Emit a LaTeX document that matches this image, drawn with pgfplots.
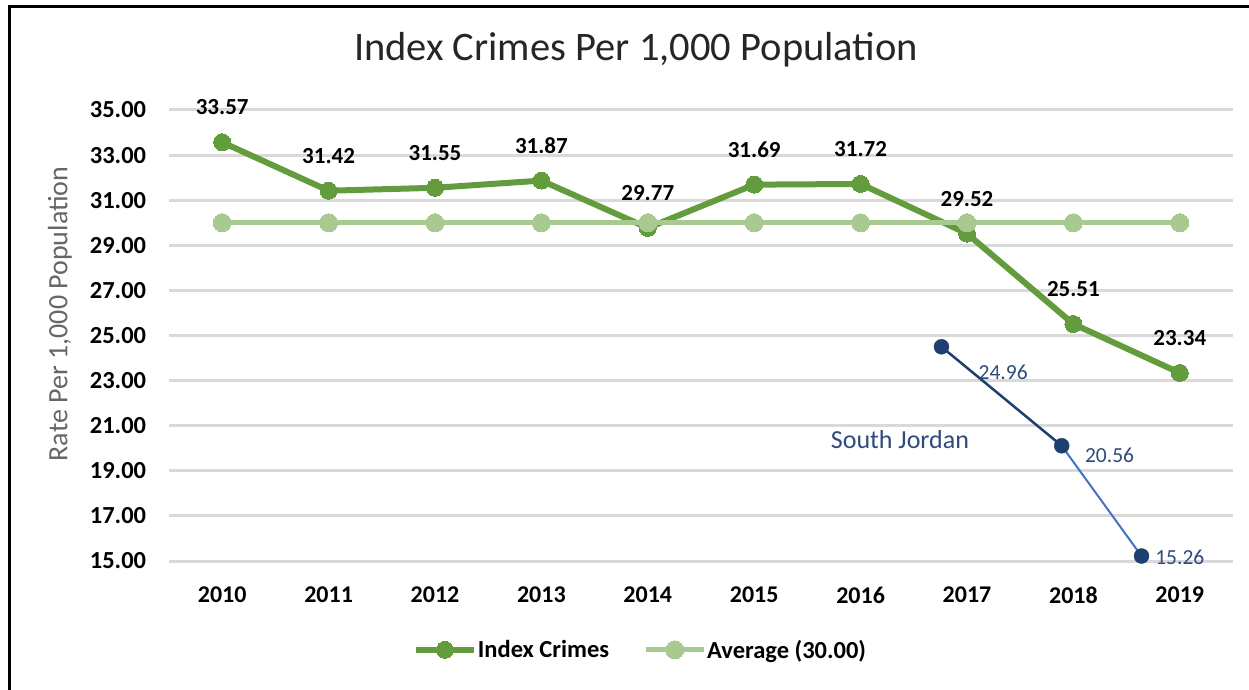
\documentclass[border=0pt]{standalone}
\usepackage{fontspec}
\setmainfont{Carlito}
\usepackage{pgfplots}
\pgfplotsset{compat=1.18}
\definecolor{ic}{RGB}{98,156,61}
\definecolor{avg}{RGB}{168,201,144}
\definecolor{sjd}{RGB}{31,63,112}
\definecolor{sjl}{RGB}{68,114,196}
\definecolor{sjt}{RGB}{47,75,124}
\definecolor{gridc}{RGB}{217,217,217}
\begin{document}
\begin{tikzpicture}
\useasboundingbox (0pt,0pt) rectangle (1249pt,689pt);
\fill[white] (0pt,0pt) rectangle (1249pt,689pt);
\node[font=\fontsize{40.5}{43}\selectfont, text=black!85] at (636pt,639pt) {Index Crimes Per 1,000 Population};
\node[font=\fontsize{28}{30}\selectfont, text=black!60, rotate=90] at (60pt,375pt) {Rate Per 1,000 Population};
\begin{axis}[
  at={(169pt,128pt)}, anchor=south west, scale only axis,
  width=1064pt, height=451pt,
  xmin=-0.5, xmax=9.5, ymin=15, ymax=35,
  xtick={0,...,9},
  xticklabels={2010,2011,2012,2013,2014,2015,2016,2017,2018,2019},
  ytick={15,17,...,35},
  axis line style={draw=none},
  major tick length=0pt,
  ymajorgrids, grid style={draw=gridc, line width=3pt},
  /pgf/number format/.cd, fixed, fixed zerofill, precision=2, assume math mode=true,
  /pgfplots/.cd,
  yticklabel style={font=\fontsize{24.5}{26}\selectfont\bfseries, anchor=center, xshift=-51pt},
  xticklabel style={font=\fontsize{24}{26}\selectfont\bfseries, anchor=center, yshift=-34pt},
  clip=false,
  legend style={at={(0.4427,-0.197)}, anchor=center, draw=none, fill=none,
    font=\fontsize{24.5}{26}\selectfont\bfseries, legend columns=2,
    nodes={inner xsep=1pt},
    /tikz/every even column/.append style={column sep=33pt}},
  legend image code/.code={\draw[mark repeat=2,mark phase=2,#1] plot coordinates {(0pt,0pt) (29pt,0pt) (58pt,0pt)};},
]
\addplot[ic, line width=6pt, mark=*, mark size=8.5pt,
  mark options={fill=ic, draw=ic, line width=0pt},
  nodes near coords,
  every node near coord/.append style={font=\fontsize{23}{25}\selectfont\bfseries, text=black, anchor=center, yshift=35pt}]
  coordinates {(0,33.57) (1,31.42) (2,31.55) (3,31.87) (4,29.77) (5,31.69) (6,31.72) (7,29.52) (8,25.51) (9,23.34)};
\addlegendentry{Index Crimes}
\addplot[avg, line width=5pt, mark=*, mark size=9pt,
  mark options={fill=avg, draw=avg, line width=0pt}]
  coordinates {(0,30) (1,30) (2,30) (3,30) (4,30) (5,30) (6,30) (7,30) (8,30) (9,30)};
\addlegendentry{Average (30.00)}
% South Jordan overlay
\addplot[sjd, line width=2.5pt, forget plot] coordinates {(6.76,24.50) (7.89,20.11)};
\addplot[sjl, line width=2pt, forget plot] coordinates {(7.89,20.11) (8.64,15.22)};
\addplot[only marks, mark=*, mark size=7.5pt, mark options={fill=sjd, draw=sjd}, forget plot]
  coordinates {(6.76,24.50) (7.89,20.11) (8.64,15.22)};
\node[font=\fontsize{21.5}{23}\selectfont, text=sjt] at (axis cs:7.34,23.35) {24.96};
\node[font=\fontsize{21.5}{23}\selectfont, text=sjt] at (axis cs:8.34,19.67) {20.56};
\node[font=\fontsize{21.5}{23}\selectfont, text=sjt] at (axis cs:9.0,15.18) {15.26};
\node[font=\fontsize{26}{28}\selectfont, text=sjt] at (axis cs:6.37,20.37) {South Jordan};
\end{axis}
\draw[line width=3pt] (9pt,-2pt) -- (9pt,682pt) -- (1252pt,682pt);
\end{tikzpicture}
\end{document}
